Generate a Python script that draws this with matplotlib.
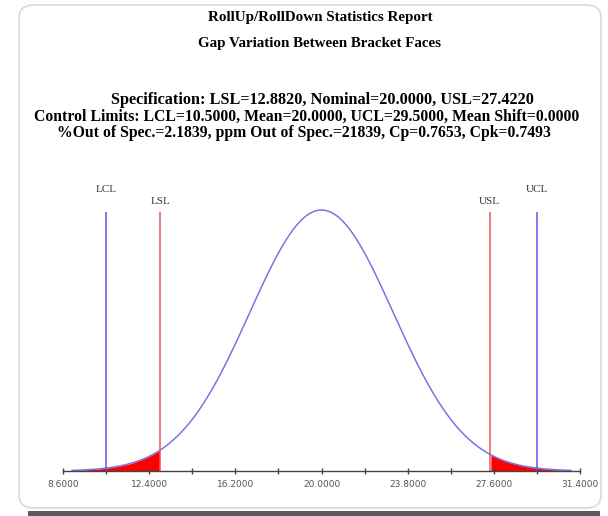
import numpy as np
import matplotlib
matplotlib.use('Agg')
import matplotlib.pyplot as plt
from matplotlib.patches import FancyBboxPatch, Rectangle

#---------------- datos del reporte ----------------
titulo = ["RollUp/RollDown Statistics Report", "Gap Variation Between Bracket Faces"]
info = ["Specification: LSL=12.8820, Nominal=20.0000, USL=27.4220",
        "Control Limits: LCL=10.5000, Mean=20.0000, UCL=29.5000, Mean Shift=0.0000",
        "%Out of Spec.=2.1839, ppm Out of Spec.=21839, Cp=0.7653, Cpk=0.7493"]
LSL = 12.882
USL = 27.422
LCL = 10.5
UCL = 29.5
mean = 20.0
Cp = 0.7653
sigma = (USL - LSL) / (6.0 * Cp)
x_ticks = [8.6, 10.5, 12.4, 14.3, 16.2, 18.1, 20.0, 21.9, 23.8, 25.7, 27.6, 29.5, 31.4]
x_lab = [8.6, 12.4, 16.2, 20.0, 23.8, 27.6, 31.4]
x_ini, x_fin = 9.0, 31.0

W, H = 608, 516
fig = plt.figure(figsize=(W/100., H/100.), dpi=100)

# marco redondeado y sombra
fig.patches.append(Rectangle((28/W, 0), 572/W, 5/H, transform=fig.transFigure,
                             facecolor='#5a5a5a', edgecolor='none'))
fig.patches.append(FancyBboxPatch((19/W, 8/H), 582/W, 503/H, transform=fig.transFigure,
                                  boxstyle="round,pad=0,rounding_size=0.025",
                                  facecolor='white', edgecolor='#d9d9d9', lw=1.2))

serif = 'Liberation Serif'
fig.text(320/W, 1-17/H, titulo[0], ha='center', va='center', family=serif,
         weight='bold', fontsize=10.8)
fig.text(320/W, 1-43/H, titulo[1], ha='center', va='center', family=serif,
         weight='bold', fontsize=10.8)
centros = [322, 307, 304]
tams = [11.7, 11.3, 11.3]
for k, t in enumerate(info):
    fig.text(centros[k]/W, 1-(100+16.5*k)/H, t, ha='center', va='center', family=serif,
             weight='bold', fontsize=tams[k])

#---------------- curva normal ----------------
ax = fig.add_axes([63/W, 1-471/H, (580-63)/W, 291/H])
ax.set_zorder(3)
x = np.linspace(x_ini, x_fin, 400)
pdf = np.exp(-0.5*((x-mean)/sigma)**2)/(sigma*np.sqrt(2*np.pi))
pico = 1/(sigma*np.sqrt(2*np.pi))
ytop = pico*291/261.

ax.fill_between(x, 0, pdf, where=(x <= LSL), color='#ff0000', lw=0)
ax.fill_between(x, 0, pdf, where=(x >= USL), color='#ff0000', lw=0)
ax.plot(x, pdf, color='#7b74e2', lw=1.1)

alto = pico*259/261.
ax.vlines([LCL, UCL], 0, alto, color='#5b5be6', lw=1.1)
ax.vlines([LSL, USL], 0, alto, color='#e45a5a', lw=1.1)
for v, n, yy in [(LCL, 'LCL', 190), (UCL, 'UCL', 190), (LSL, 'LSL', 202), (USL, 'USL', 202)]:
    ax.text(v, (471-yy)/291.*ytop, n, ha='center', va='center', family=serif,
            fontsize=8, color='#333333')

ax.set_xlim(8.6, 31.4)
ax.set_ylim(0, ytop)
for s in ['top', 'right', 'left']:
    ax.spines[s].set_visible(False)
ax.spines['bottom'].set_color('#444444')
ax.spines['bottom'].set_linewidth(1.0)
ax.set_yticks([])
ax.set_xticks(x_ticks)
ax.set_xticklabels(['%.4f' % v if v in x_lab else '' for v in x_ticks],
                   family='DejaVu Sans', fontsize=6.5, color='#555555')
ax.tick_params(axis='x', direction='inout', length=5, width=1, color='#444444', pad=4)
ax.patch.set_alpha(0)

fig.savefig('out.png', dpi=100)
